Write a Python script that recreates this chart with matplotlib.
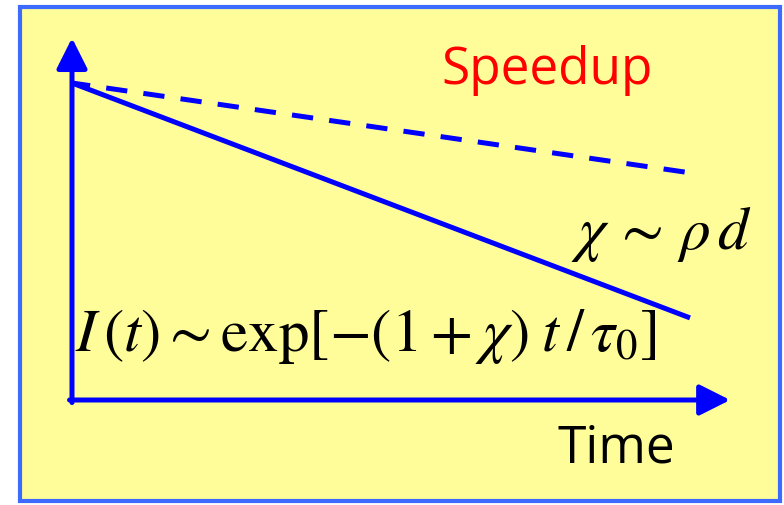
import matplotlib.pyplot as plt
from matplotlib.patches import Rectangle

plt.rcParams['mathtext.fontset'] = 'stix'

# data: normalised time and intensity (log scale sketch)
time_solid = [0.0, 1.0]
intensity_solid = [1.0, 0.259]
time_dashed = [0.0, 0.992]
intensity_dashed = [1.0, 0.719]
x_axis_end = 1.065
y_axis_end = 1.142

blue = '#0000FF'
yellow = '#FFFD99'

fig = plt.figure(figsize=(7.84, 5.05), dpi=100)
fig.patch.set_facecolor('white')

ax = fig.add_axes([0, 0, 1, 1])
ax.set_facecolor('none')
ax.set_xlim(-72 / 618, (784 - 72) / 618)
ax.set_ylim((400 - 505) / 317, 400 / 317)
ax.axis('off')

# framed yellow panel
ax.add_patch(Rectangle((20 / 784, 1 - 501 / 505), 760 / 784, 494 / 505,
                       transform=ax.transAxes, facecolor=yellow,
                       edgecolor='#3D6BFF', linewidth=3, zorder=0, clip_on=False))

lw = 3.6
arrow = dict(arrowstyle='-|>,head_length=1.87,head_width=0.94', mutation_scale=10,
             color=blue, lw=lw, shrinkA=0, shrinkB=0)
ax.annotate('', xy=(0, y_axis_end), xytext=(0, -0.008), arrowprops=arrow)
ax.annotate('', xy=(x_axis_end, 0), xytext=(-0.004, 0), arrowprops=arrow)

ax.plot(time_solid, intensity_solid, color=blue, lw=lw, solid_capstyle='butt')
ax.plot(time_dashed, intensity_dashed, color=blue, lw=lw,
        linestyle=(0.6, (4.26, 3.25)), dash_capstyle='butt')

ax.text(0.768, 1.038, 'Speedup', color='#FF0000', fontsize=37,
        family='Open Sans', ha='center', va='center')
ax.text(1.101, 0.524, r'$\chi\, \sim\, \rho\, d$', fontsize=44, ha='right', va='center')
ax.text(0.005, 0.199, r'$I\,(t) \sim \mathrm{exp}[-(1+\chi)\;t\,/\,\tau_0]$',
        fontsize=44, ha='left', va='center')
ax.text(0.88, -0.155, 'Time', color='black', fontsize=37,
        family='Open Sans', ha='center', va='center')

fig.savefig('out.png', dpi=100)
